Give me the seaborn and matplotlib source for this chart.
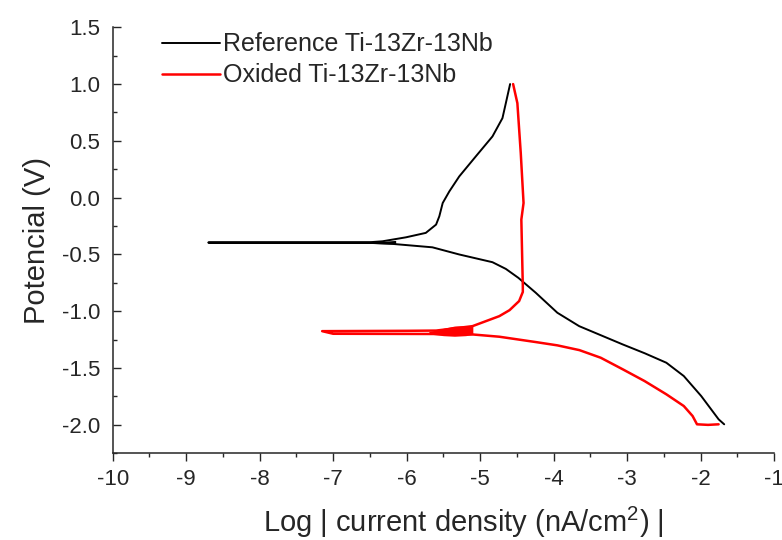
import numpy as np
import pandas as pd
import seaborn as sns
import matplotlib.pyplot as plt
from matplotlib.ticker import MultipleLocator

# Reference alloy: cathodic branch (from -2 V up), then anodic branch
ref_logi = [-1.68, -1.756, -1.993, -2.23, -2.467, -2.76, -3.06, -3.653, -3.95, -4.244,
            -4.48, -4.651, -4.833, -5.285, -5.65, -6.19, -6.5, -8.70,
            -6.5, -6.33, -6.01, -5.74, -5.60, -5.556, -5.51, -5.42, -5.285, -5.06,
            -4.833, -4.697, -4.651, -4.593]
ref_pot = [-1.995, -1.951, -1.746, -1.57, -1.453, -1.37, -1.292, -1.131, -1.013, -0.837,
           -0.706, -0.627, -0.568, -0.50, -0.437, -0.407, -0.398, -0.395,
           -0.392, -0.384, -0.349, -0.31, -0.237, -0.164, -0.047, 0.055, 0.187, 0.363,
           0.539, 0.70, 0.832, 1.0]

# Oxided alloy
oxi_logi = [-1.756, -1.9, -2.05, -2.11, -2.23, -2.467, -2.764, -3.06, -3.36, -3.65,
            -3.95, -4.244, -4.74, -5.105, -5.6, -7.0,
            -7.15, -6.0, -5.6, -5.105, -4.74, -4.6, -4.47, -4.42, -4.42, -4.425,
            -4.44, -4.41, -4.448, -4.494, -4.552]
oxi_pot = [-1.995, -2.0, -1.995, -1.922, -1.834, -1.731, -1.614, -1.511, -1.409, -1.342,
           -1.30, -1.271, -1.224, -1.204, -1.20, -1.198,
           -1.175, -1.172, -1.17, -1.131, -1.043, -0.99, -0.91, -0.83, -0.78, -0.633,
           -0.193, -0.047, 0.393, 0.832, 1.0]

# noisy band near the corrosion potentials (read as upper / lower edges)
oxi_noise_x = [-5.7, -5.5, -5.35, -5.2, -5.1]
oxi_noise_lo = [-1.20, -1.215, -1.22, -1.215, -1.205]
oxi_noise_hi = [-1.18, -1.15, -1.13, -1.127, -1.131]
ref_noise_x = [-6.7, -6.4, -6.15]
ref_noise_lo = [-0.399, -0.404, -0.408]
ref_noise_hi = [-0.394, -0.388, -0.376]

ref_df = pd.DataFrame({"logi": ref_logi, "pot": ref_pot})
oxi_df = pd.DataFrame({"logi": oxi_logi, "pot": oxi_pot})

sns.set_style("ticks")
plt.rcParams["font.family"] = ["Liberation Sans", "DejaVu Sans"]
plt.rcParams["mathtext.default"] = "regular"

fig = plt.figure(figsize=(7.82, 5.40), dpi=100)
ax = fig.add_axes([0.1441, 0.1606, 0.8459, 0.7889])

sns.lineplot(data=ref_df, x="logi", y="pot", sort=False, estimator=None,
             color="black", linewidth=1.4, label="Reference Ti-13Zr-13Nb", ax=ax)
sns.lineplot(data=oxi_df, x="logi", y="pot", sort=False, estimator=None,
             color="#ff0000", linewidth=1.8, label="Oxided Ti-13Zr-13Nb", ax=ax)
ax.fill_between(oxi_noise_x, oxi_noise_lo, oxi_noise_hi, color="#ff0000", linewidth=0)
ax.fill_between(ref_noise_x, ref_noise_lo, ref_noise_hi, color="black", linewidth=0)

ax.set_xlim(-10, -1)
ax.set_ylim(-2.25, 1.5)
ax.xaxis.set_major_locator(MultipleLocator(1))
ax.xaxis.set_minor_locator(MultipleLocator(0.5))
ax.yaxis.set_major_locator(MultipleLocator(0.5))
ax.yaxis.set_minor_locator(MultipleLocator(0.25))
ax.yaxis.set_major_formatter(plt.FormatStrFormatter("%.1f"))
ax.xaxis.set_major_formatter(plt.FormatStrFormatter("%d"))

ax.tick_params(axis="x", which="both", direction="out", labelsize=16, pad=5, width=1)
ax.tick_params(axis="y", which="both", direction="in", labelsize=16, pad=9, width=1)
ax.tick_params(which="major", length=6)
ax.tick_params(which="minor", length=3)
for s in ["left", "bottom"]:
    ax.spines[s].set_linewidth(1.1)
sns.despine(ax=ax)

ax.set_xlabel("Log | current density (nA/cm$^2$) |", fontsize=21, labelpad=11)
ax.xaxis.label.set_x(0.53)
ax.set_ylabel("Potencial (V)", fontsize=21, labelpad=8)

ax.legend(loc="upper left", bbox_to_anchor=(0.0748, 0.988), frameon=False, fontsize=18,
          handlelength=2.3, handletextpad=0.15, borderpad=0, borderaxespad=0, labelspacing=0.28)

fig.savefig("out.png", dpi=100)
